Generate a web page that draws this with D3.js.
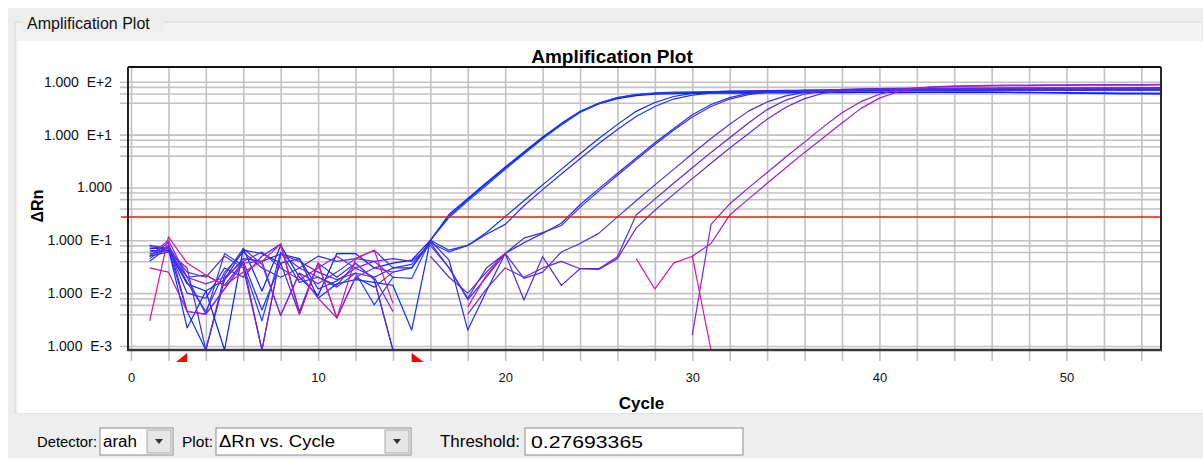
<!DOCTYPE html>
<html><head><meta charset="utf-8">
<script src="https://cdn.jsdelivr.net/npm/d3@7"></script>
<style>
html,body{margin:0;padding:0;background:#fff;}
svg{display:block;font-family:"Liberation Sans",Arial,sans-serif;}
</style></head><body>
<svg id="c" width="1203" height="466"></svg>
<script>
// ---------------- data ----------------
const cycles = [1,2,3,4,5,6,7,8,9,10,11,12,13,14,15,16,17,18,19,20,21,22,23,24,25,26,27,28,29,30,31,32,33,34,35,36,37,38,39,40,41,42,43,44,45,46,47,48,49,50,51,52,53,54,55];
const yTickValues = [0.001, 0.01, 0.1, 1, 10, 100];
const yTickLabels = ["1.000  E-3","1.000  E-2","1.000  E-1","1.000","1.000  E+1","1.000  E+2"];
const yGridValues = [0.001,0.004,0.006,0.008,0.01,0.04,0.06,0.08,0.1,0.4,0.6,0.8,1,4,6,8,10,40,60,80,100];
const xTickValues = [0,10,20,30,40,50];
const xGridValues = [0,2,4,6,8,10,12,14,16,18,20,22,24,26,28,30,32,34,36,38,40,42,44,46,48,50,52,54];
const threshold = 0.27693365;
const baselineStart = 3, baselineEnd = 15;

const A1 = [0.07,0.07,0.0045,0.0004,0.018,0.065,0.056,0.037,0.045,0.008,0.015,0.018,0.016,0.014,
 0.002,0.1,0.31,0.62,1.24,2.43,4.7,9.0,16.3,27.5,39.5,50,56.5,60,61.5,
 62,62.5,63,63,63.5,63.5,63,63.5,64,64,63.5,64,64,63.5,64,64,63.5,63,63,62,61,60,59.5,59,59,58.5];
const A2 = [0.055,0.065,0.015,0.011,0.0004,0.07,0.011,0.08,0.02,0.009,0.056,0.056,0.03,0.037,
 0.042,0.1,0.29,0.59,1.18,2.32,4.5,8.6,15.6,26.5,38,48,54.5,58,59.5,
 60,60.5,61,61,61.5,61.5,62,62,62,62.5,62.5,62,62.5,62.5,63,63,62.5,62.5,62,62,62,61.5,61.5,61,61,61];
const A3 = [0.045,0.08,0.02,0.004,0.056,0.033,0.003,0.06,0.016,0.02,0.013,0.024,0.006,0.02,
 0.019,0.1,0.27,0.55,1.1,2.2,4.3,8.3,15.2,26.5,39,50,57.5,61.5,63.5,
 64.5,65,65.5,65.5,66,66,66.5,66.5,67,67,67,67.5,67.5,67.5,68,68,68,68,68.5,68.5,68.5,68.5,69,69,69,69];
const B1 = [0.06,0.07,0.0022,0.011,0.018,0.045,0.04,0.055,0.045,0.012,0.017,0.03,0.02,0.03,
 0.03,0.1,0.065,0.08,0.14,0.28,0.56,1.12,2.2,4.35,8.4,15.6,27.5,40.5,52.5,
 60,64.5,66.5,67.5,68,68.5,68.5,69,69,69.5,69.5,70,70,70,70.5,70.5,70.5,71,71,71,71,71.5,71.5,71.5,71.5,72];
const B2 = [0.05,0.06,0.02,0.022,0.014,0.04,0.0048,0.037,0.004,0.037,0.0034,0.02,0.013,0.025,
 0.03,0.09,0.06,0.08,0.13,0.2,0.45,0.91,1.8,3.5,6.8,12.5,22,34,47,
 56,61,63.5,65,65.5,66,66.5,66.5,67,67,67.5,67.5,67.5,68,68,68,68,68.5,68.5,68.5,68.5,69,69,69,69,69];
const C1 = [0.08,0.07,0.01,0.008,0.03,0.02,0.05,0.085,0.0045,0.037,0.02,0.037,0.018,0.0004,
 null,0.1,0.042,0.002,0.011,0.0565,0.09,0.135,0.21,0.47,0.94,1.86,3.6,7.0,12.9,
 23.7,37,50,60,65,67.5,69,69.5,70,70.5,70.5,71,71,71.5,71.5,72,72,72,72.5,72.5,72.5,73,73,73,73,73];
const C2 = [0.04,0.075,0.016,0.0045,0.025,0.06,0.03,0.02,0.03,0.05,0.04,0.045,0.065,0.03,
 0.035,0.09,0.03,0.008,0.03,0.0565,0.11,0.14,0.19,0.42,0.85,1.7,3.35,6.5,12.1,
 21.5,34,47,57,63,66.5,68.5,69.5,70,70.5,70.5,71,71,71,71.5,71.5,71.5,72,72,72,72,72.5,72.5,72.5,72.5,72.5];
const D1 = [0.065,0.06,0.03,0.0004,0.022,0.07,0.035,0.0038,0.024,0.015,0.025,0.045,0.04,0.045,
 0.04,0.08,0.03,0.0075,0.02,0.0565,0.019,0.025,0.06,0.087,0.135,0.277,0.56,1.12,2.2,
 4.35,8.4,15.7,27.8,41.5,54,63,68,70.5,71.5,72,72.5,72.5,73,73,73,73.5,73.5,73.5,74,74,74,74,74.5,74.5,74.5];
const D2 = [0.05,0.09,0.0045,0.004,0.012,0.037,0.0004,0.056,0.03,0.02,0.014,0.037,0.018,0.0004,
 null,0.05,0.02,0.01,0.025,0.0565,0.0074,0.049,0.014,0.029,0.029,0.049,0.3,0.6,1.2,
 2.35,4.6,8.7,16.6,29.7,45,58.5,67,71.7,73.5,74.5,75,75.5,75.5,76,76,76,76.5,76.5,76.5,77,77,77,77,77.5,77.5];
const D3 = [0.075,0.07,0.025,0.02,0.05,0.03,0.0004,0.055,0.04,0.025,0.018,0.024,0.02,0.0045,
 null,null,null,0.004,0.012,0.03,0.02,0.03,0.04,0.029,0.028,0.045,0.17,0.37,0.74,
 1.47,2.87,5.56,10.4,19.6,33,48,60.5,67.3,71,72.8,73.6,74,74.5,74.5,75,75,75.5,75.5,75.5,76,76,76,76,76.5,76.5];
const E1 = [0.05,0.1,0.02,0.015,0.02,0.04,0.06,0.03,0.018,0.03,0.05,0.03,0.04,0.02,
 null,null,null,null,null,null,null,null,null,null,null,null,null,null,null,
 0.0016,0.2,0.49,0.98,1.92,3.76,7.2,14,26,42,58,70,77,80,81.5,82.5,83,84,84.5,85,85.5,86,86,86.5,86.5,87];
const E2 = [0.03,0.025,0.0045,0.004,0.012,0.037,0.04,0.0038,0.024,0.008,0.0034,0.02,0.03,0.025,
 null,null,null,null,null,null,null,null,null,null,null,null,null,null,null,
 0.05,0.087,0.3,0.6,1.2,2.35,4.6,8.7,16.6,31,49,64.5,75,80.5,83,84.5,85.5,86,86.5,87,87.5,88,88,88.5,88.5,89];
const N1 = [0.003,0.116,0.037,0.022,0.014,0.025,0.04,0.085,0.004,0.037,0.0034,0.045,0.065,0.0064,
 null,null,null,0.0055,0.022,0.0565,null,null,null,null,null,null,0.045,0.012,0.037,
 0.05,0.0004,null,null,null,null,null,null,null,null,null,null,null,null,null,null,null,null,null,null,null,null,null,null,null,null];

const seriesValues = [A1,A2,A3,B1,B2,C1,C2,D1,D2,D3,E1,E2,N1];
const seriesColors = ["#1030ff","#0020ff","#2040ff","#1a28f8","#2a30f0","#3028e8","#3a30f0","#4a30ea","#5a28e6","#6428e0","#8a20e0","#9a20d8","#e0109c"];

// ---------------- drawing ----------------
const svg = d3.select("#c");
const L = 128, R = 1161, T = 67, B = 350;

svg.append("rect").attr("width",1203).attr("height",466).attr("fill","#ffffff");
svg.append("rect").attr("x",8).attr("y",8).attr("width",1195).attr("height",450).attr("fill","#eeeeee");
svg.append("rect").attr("x",15).attr("y",22).attr("width",1188).attr("height",391).attr("fill","#f3f3f3").attr("stroke","#d6d6d6");
svg.append("rect").attr("x",18).attr("y",41).attr("width",1185).attr("height",372).attr("fill","#ffffff");
svg.append("rect").attr("x",22).attr("y",14).attr("width",142).attr("height",18).attr("fill","#eeeeee");
svg.append("text").attr("x",27).attr("y",29).attr("font-size",16).attr("fill","#111").text("Amplification Plot");

const x = d3.scaleLinear().domain([-0.16, 55.05]).range([L, R]);
const y = d3.scaleLog().domain([0.00084, 190]).range([B, T]).clamp(true);

// grid
const gy = svg.append("g").attr("transform",`translate(${L-8},0)`)
  .call(d3.axisLeft(y).tickValues(yGridValues).tickSize(-(R-L+8)).tickFormat(""));
gy.select(".domain").remove();
gy.selectAll("line").attr("stroke","#c2c2c2").attr("stroke-width",1.6);
const gx = svg.append("g").attr("transform",`translate(0,${B+11})`)
  .call(d3.axisBottom(x).tickValues(xGridValues).tickSize(-(B+11-T)).tickFormat(""));
gx.select(".domain").remove();
gx.selectAll("line").attr("stroke","#c2c2c2").attr("stroke-width",1.6);

// labels
const ly = svg.append("g").attr("transform",`translate(${L-8},0)`)
  .call(d3.axisLeft(y).tickValues(yTickValues).tickSize(0).tickPadding(8)
    .tickFormat((d,i)=>yTickLabels[i]));
ly.select(".domain").remove();
ly.selectAll("text").attr("font-size",14).attr("font-family","Liberation Sans, Arial, sans-serif")
  .attr("fill","#111").style("white-space","pre");
const lx = svg.append("g").attr("transform",`translate(0,${B})`)
  .call(d3.axisBottom(x).tickValues(xTickValues).tickSize(0).tickPadding(23).tickFormat(d3.format("d")));
lx.select(".domain").remove();
lx.selectAll("text").attr("font-size",13).attr("font-family","Liberation Sans, Arial, sans-serif").attr("fill","#111");

// curves
svg.append("clipPath").attr("id","pc").append("rect")
  .attr("x",L).attr("y",T).attr("width",R-L).attr("height",B-T+1);
const line = d3.line().defined(d=>d.v!=null).x(d=>x(d.c)).y(d=>y(d.v));
const gc = svg.append("g").attr("clip-path","url(#pc)");
seriesValues.forEach((vals,i)=>{
  gc.append("path").datum(cycles.map((c,j)=>({c:c,v:vals[j]})))
    .attr("d",line).attr("fill","none").attr("stroke",seriesColors[i])
    .attr("stroke-width",1.2).attr("stroke-linejoin","round");
});

// threshold
svg.append("line").attr("x1",L-7).attr("x2",R).attr("y1",y(threshold)).attr("y2",y(threshold))
  .attr("stroke","#ff1010").attr("stroke-width",1.5);

// frame
svg.append("line").attr("x1",L).attr("x2",R).attr("y1",T).attr("y2",T).attr("stroke","#111").attr("stroke-width",1.8);
svg.append("line").attr("x1",R).attr("x2",R).attr("y1",T).attr("y2",B).attr("stroke","#111").attr("stroke-width",1.8);
svg.append("line").attr("x1",L).attr("x2",L).attr("y1",T).attr("y2",B+1).attr("stroke","#222").attr("stroke-width",2);
svg.append("line").attr("x1",L).attr("x2",R+1).attr("y1",B).attr("y2",B).attr("stroke","#383838").attr("stroke-width",2.5);

// baseline markers
const xs = x(baselineStart), xe = x(baselineEnd);
svg.append("path").attr("d",`M${xs},${B+3} L${xs},${B+12} L${xs-11},${B+12} Z`).attr("fill","#ff0000");
svg.append("path").attr("d",`M${xe},${B+3} L${xe},${B+12} L${xe+12},${B+12} Z`).attr("fill","#ff0000");

// titles
svg.append("text").attr("x",612).attr("y",63).attr("text-anchor","middle")
  .attr("font-size",19).attr("font-weight","bold").attr("fill","#000").text("Amplification Plot");
svg.append("text").attr("x",(L+R)/2-3).attr("y",409).attr("text-anchor","middle")
  .attr("font-size",17).attr("font-weight","bold").attr("fill","#000").text("Cycle");
svg.append("text").attr("transform","translate(43,206) rotate(-90)").attr("text-anchor","middle")
  .attr("font-size",16).attr("font-weight","bold").attr("fill","#000").text("ΔRn");

// controls
function uiText(x0, txt, w, fs){
  svg.append("text").attr("x",x0).attr("y",447).attr("font-size",fs).attr("fill","#000")
    .attr("textLength",w).attr("lengthAdjust","spacingAndGlyphs").text(txt);
}
function combo(x0, x1, label, w){
  svg.append("rect").attr("x",x0).attr("y",428).attr("width",x1-x0).attr("height",27)
    .attr("fill","#fff").attr("stroke","#8a8a8a");
  svg.append("rect").attr("x",x1-26).attr("y",430).attr("width",24).attr("height",23)
    .attr("fill","#e6e6e6").attr("stroke","#a8a8a8");
  const cx = x1-14;
  svg.append("path").attr("d",`M${cx-4},439 L${cx+4},439 L${cx},444 Z`).attr("fill","#333");
  uiText(x0+3, label, w, 16);
}
uiText(37, "Detector:", 60, 15);
combo(100,173,"arah", 34);
uiText(182, "Plot:", 31, 15);
combo(216,411,"ΔRn vs. Cycle", 116);
uiText(440, "Threshold:", 80, 16);
svg.append("rect").attr("x",525).attr("y",428).attr("width",218).attr("height",27).attr("fill","#fff").attr("stroke","#8a8a8a");
svg.append("text").attr("x",531).attr("y",448).attr("font-size",17).attr("fill","#000")
  .attr("textLength",112).attr("lengthAdjust","spacingAndGlyphs").text("0.27693365");
</script>
</body></html>
